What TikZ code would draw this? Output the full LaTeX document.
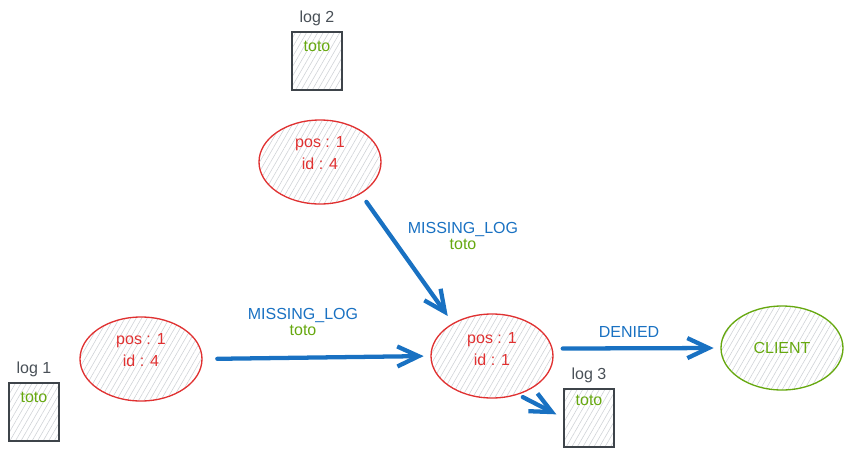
\documentclass[tikz,border=0pt]{standalone}
\usepackage{fontspec}
\setmainfont{Liberation Sans}
\usetikzlibrary{arrows.meta,positioning,calc,shapes.geometric,patterns.meta}
\definecolor{posred}{HTML}{E03131}
\definecolor{totogreen}{HTML}{66A80F}
\definecolor{msgblue}{HTML}{1971C2}
\definecolor{boxgray}{HTML}{495057}
\definecolor{hatch}{HTML}{D0D3D7}
\tikzset{
  hatched/.style={pattern={Lines[angle=60,distance=3.6pt,line width=.45pt]},pattern color=hatch},
  entry/.style={ellipse,draw=posred,line width=1pt,hatched,minimum width=91.5pt,minimum height=63pt,inner sep=0pt},
  entrytext/.style={text=posred,align=center},
  client/.style={entry,draw=totogreen,text=totogreen},
  logbox/.style={draw=boxgray!85!black,line width=1.3pt,hatched,minimum width=37pt,minimum height=44pt,inner sep=0pt,label distance=-2.5pt},
  logname/.style={text=boxgray},
  toto/.style={text=totogreen},
  msg/.style={->,draw=msgblue,line width=3.2pt,line cap=round,line join=round},
  msglabel/.style={text=msgblue,align=center,font=\fontsize{12}{12}\selectfont}
}
\begin{document}
\begin{tikzpicture}[x=.75pt,y=-.75pt,>={Straight Barb[length=16pt,width=15pt]},font=\fontsize{12}{16.5}\selectfont]
\useasboundingbox (0,0) rectangle (853,458);
% entries and the client
\node[entry] (e2) at (320,162) {};
\node[entrytext] (e2txt) at (320,153) {pos : 1\\id : 4};
\node[entry] (e1) at (141,359) {};
\node[entrytext] (e1txt) at (141,350) {pos : 1\\id : 4};
\node[entry] (mid) at (492,356) {};
\node[entrytext] (midtxt) at (492,349) {pos : 1\\id : 1};
\node[client] (client) at (782,348) {CLIENT};
% logs
\node[logbox,label={[logname]above:log 2}] (log2) at (317,61) {};
\node[toto] (log2txt) at ($(log2.north)+(0,16)$) {toto};
\node[logbox,label={[logname]above:log 1}] (log1) at (34,412) {};
\node[toto] (log1txt) at ($(log1.north)+(0,16)$) {toto};
\node[logbox,label={[logname]above:log 3}] (log3) at (589,418) {};
\node[toto] (log3txt) at ($(log3.north)+(0,13)$) {toto};
% messages
\draw[msg,shorten <=7.5pt,shorten >=6.5pt] (e2.-38) -- (mid.140);
\draw[msg,shorten <=11pt,shorten >=5pt] (e1.east) -- (mid.west);
\draw[msg,shorten <=7.5pt,shorten >=5pt] (mid.7) -- (client.west);
\draw[msg,shorten <=4pt,shorten >=6pt] (mid.-56) -- (log3.west);
\node[msglabel] (m2) at (463,236) {MISSING\_LOG\\\textcolor{totogreen}{toto}};
\node[msglabel] (m1) at (303,322) {MISSING\_LOG\\\textcolor{totogreen}{toto}};
\node[msglabel] (den) at (629,332) {DENIED};
\end{tikzpicture}
\end{document}
